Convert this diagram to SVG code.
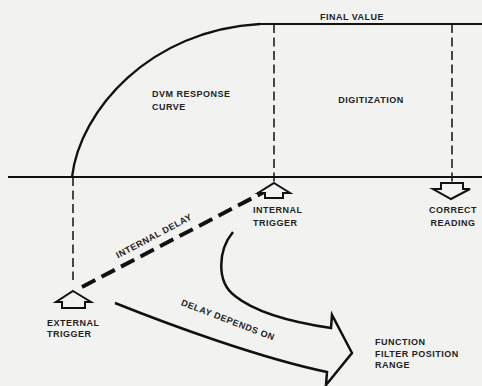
<svg xmlns="http://www.w3.org/2000/svg" width="482" height="386" viewBox="0 0 482 386">
<defs>
<style>
.bg{fill:#f2f3f1}
.t{font-family:"Liberation Sans",Arial,sans-serif;font-size:9px;font-weight:bold;fill:#222;letter-spacing:0.5px}
.ln{fill:none;stroke:#111;stroke-width:2}
.cv{fill:none;stroke:#111;stroke-width:2.3}
.dash{fill:none;stroke:#111;stroke-width:1.5;stroke-dasharray:9 4.5}
.thick{fill:none;stroke:#111;stroke-width:4;stroke-dasharray:15 7}
.arr{fill:#f2f3f1;stroke:#111;stroke-width:2;stroke-linejoin:miter}
.big{fill:none;stroke:#111;stroke-width:2.5;stroke-linejoin:miter}
</style>
</defs>
<rect class="bg" x="0" y="0" width="482" height="386"/>
<g id="axes">
<line class="ln" x1="8" y1="177" x2="482" y2="177"/>
<line class="ln" x1="258" y1="24" x2="482" y2="24"/>
<path id="curve" class="cv" d="M72,177 C80,110 150,30 260,24"/>
<text class="t" x="352" y="19.5" text-anchor="middle">FINAL VALUE</text>
<text class="t" x="152" y="97">DVM RESPONSE</text>
<text class="t" x="152" y="110">CURVE</text>
<text class="t" x="371" y="102.5" text-anchor="middle">DIGITIZATION</text>
</g>
<g id="connectors">
<line class="dash" x1="274" y1="24" x2="274" y2="183"/>
<line class="dash" x1="452" y1="24" x2="452" y2="183"/>
<line class="dash" x1="73" y1="177" x2="73" y2="280"/>
<line class="thick" x1="82" y1="287" x2="264" y2="192"/>
<path class="big" d="M233,232 C218,250 216,282 235,296 C255,312 290,322 331,328 L332,315 L352,353 L326,385 L327,372 C260,358 170,325 115,303"/>
<text class="t" transform="translate(154,236) rotate(-28)" x="0" y="3" text-anchor="middle">INTERNAL DELAY</text>
<text class="t" transform="translate(228,320) rotate(21)" x="0" y="3" text-anchor="middle">DELAY DEPENDS ON</text>
</g>
<g id="internal-trigger">
<polygon class="arr" points="274,183 290,193 283,193 283,198 265,198 265,193 258,193"/>
<text class="t" x="253" y="213">INTERNAL</text>
<text class="t" x="253" y="226">TRIGGER</text>
</g>
<g id="correct-reading">
<polygon class="arr" points="441,183 463,183 463,189 470,189 451,199 433,189 441,189"/>
<text class="t" x="453" y="213" text-anchor="middle">CORRECT</text>
<text class="t" x="453" y="226" text-anchor="middle">READING</text>
</g>
<g id="external-trigger">
<polygon class="arr" points="73,291 91,302 85,302 85,308 62,308 62,302 56,302"/>
<text class="t" x="47" y="326">EXTERNAL</text>
<text class="t" x="47" y="337">TRIGGER</text>
</g>
<g id="factors">
<text class="t" x="375" y="345">FUNCTION</text>
<text class="t" x="375" y="357">FILTER POSITION</text>
<text class="t" x="375" y="368">RANGE</text>
</g>
</svg>
